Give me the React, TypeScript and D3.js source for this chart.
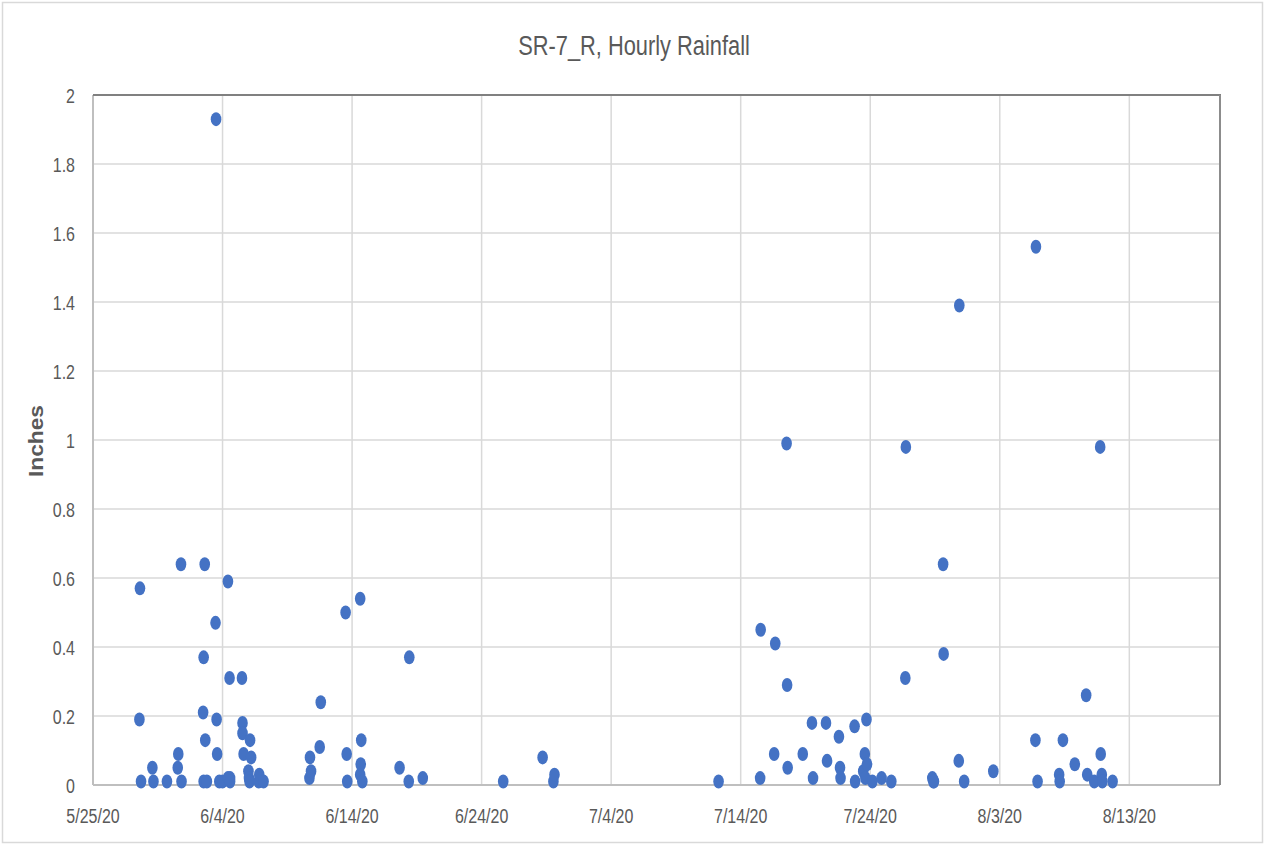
import React from "react";
import * as d3 from "d3";

const chartTitle = "SR-7_R, Hourly Rainfall";
const yAxisTitle = "Inches";

const rainTimes: string[] = [
  "2020-05-28T14:00", "2020-05-28T15:00", "2020-05-28T17:00", "2020-05-29T14:00", "2020-05-29T16:00",
  "2020-05-30T17:00", "2020-05-31T14:00", "2020-05-31T13:00", "2020-05-31T19:00", "2020-05-31T20:00",
  "2020-06-02T12:00", "2020-06-02T13:00", "2020-06-02T15:00", "2020-06-02T16:00", "2020-06-02T13:00",
  "2020-06-02T19:00", "2020-06-03T11:00", "2020-06-03T12:00", "2020-06-03T13:00", "2020-06-03T14:00",
  "2020-06-03T18:00", "2020-06-04T00:00", "2020-06-04T10:00", "2020-06-04T13:00", "2020-06-04T14:00",
  "2020-06-04T10:00", "2020-06-04T14:00", "2020-06-05T12:00", "2020-06-05T13:00", "2020-06-05T13:00",
  "2020-06-05T15:00", "2020-06-06T00:00", "2020-06-06T01:00", "2020-06-06T02:00", "2020-06-06T03:00",
  "2020-06-06T05:00", "2020-06-06T19:00", "2020-06-06T20:00", "2020-06-07T04:00",
  "2020-06-10T17:00", "2020-06-10T18:00", "2020-06-10T20:00", "2020-06-11T12:00", "2020-06-11T14:00",
  "2020-06-13T12:00", "2020-06-13T14:00", "2020-06-13T15:00", "2020-06-14T15:00", "2020-06-14T15:00",
  "2020-06-14T16:00", "2020-06-14T17:00", "2020-06-14T19:00", "2020-06-17T16:00", "2020-06-18T09:00",
  "2020-06-18T10:00", "2020-06-19T11:00",
  "2020-06-25T16:00", "2020-06-28T17:00", "2020-06-29T13:00", "2020-06-29T15:00",
  "2020-07-12T07:00", "2020-07-15T12:00", "2020-07-15T13:00", "2020-07-16T14:00", "2020-07-16T16:00",
  "2020-07-17T13:00", "2020-07-17T14:00", "2020-07-17T15:00", "2020-07-18T19:00", "2020-07-19T12:00",
  "2020-07-19T14:00", "2020-07-20T14:00", "2020-07-20T16:00", "2020-07-21T14:00", "2020-07-21T16:00",
  "2020-07-21T17:00", "2020-07-22T19:00", "2020-07-22T20:00", "2020-07-23T11:00", "2020-07-23T14:00",
  "2020-07-23T15:00", "2020-07-23T17:00", "2020-07-23T18:00", "2020-07-24T04:00", "2020-07-24T21:00",
  "2020-07-25T15:00", "2020-07-26T17:00", "2020-07-26T18:00", "2020-07-28T19:00", "2020-07-28T21:00",
  "2020-07-28T22:00", "2020-07-29T15:00", "2020-07-29T16:00", "2020-07-30T20:00", "2020-07-30T21:00",
  "2020-07-31T06:00", "2020-08-02T12:00", "2020-08-05T18:00", "2020-08-05T19:00", "2020-08-05T22:00",
  "2020-08-07T14:00", "2020-08-07T15:00", "2020-08-07T21:00", "2020-08-08T19:00", "2020-08-09T16:00",
  "2020-08-09T18:00", "2020-08-10T07:00", "2020-08-10T18:00", "2020-08-10T19:00", "2020-08-10T21:00",
  "2020-08-10T22:00", "2020-08-11T17:00",
];

const rainInches: number[] = [
  0.19, 0.57, 0.01, 0.05, 0.01,
  0.01, 0.09, 0.05, 0.64, 0.01,
  0.21, 0.37, 0.64, 0.13, 0.01,
  0.01, 0.47, 1.93, 0.19, 0.09,
  0.01, 0.01, 0.59, 0.31, 0.02,
  0.02, 0.01, 0.31, 0.18, 0.15,
  0.09, 0.04, 0.02, 0.01, 0.13,
  0.08, 0.01, 0.03, 0.01,
  0.02, 0.08, 0.04, 0.11, 0.24,
  0.5, 0.09, 0.01, 0.54, 0.03,
  0.06, 0.13, 0.01, 0.05, 0.01,
  0.37, 0.02,
  0.01, 0.08, 0.01, 0.03,
  0.01, 0.02, 0.45, 0.09, 0.41,
  0.99, 0.29, 0.05, 0.09, 0.18,
  0.02, 0.18, 0.07, 0.14, 0.05,
  0.02, 0.17, 0.01, 0.04, 0.09,
  0.02, 0.19, 0.06, 0.01, 0.02,
  0.01, 0.31, 0.98, 0.02, 0.01,
  0.01, 0.64, 0.38, 0.07, 1.39,
  0.01, 0.04, 0.13, 1.56, 0.01,
  0.03, 0.01, 0.13, 0.06, 0.26,
  0.03, 0.01, 0.98, 0.09, 0.03,
  0.01, 0.01,
];

const xTickDates: string[] = [
  "2020-05-25T00:00", "2020-06-04T00:00", "2020-06-14T00:00", "2020-06-24T00:00", "2020-07-04T00:00",
  "2020-07-14T00:00", "2020-07-24T00:00", "2020-08-03T00:00", "2020-08-13T00:00",
];
const xDomain: string[] = ["2020-05-25T00:00", "2020-08-20T00:00"];
const yTicks: number[] = [0, 0.2, 0.4, 0.6, 0.8, 1, 1.2, 1.4, 1.6, 1.8, 2];

const W = 1265;
const H = 844;
const left = 93;
const right = 1220;
const top = 95;
const bottom = 785;
const SX = 0.78;
const textColor = "#595959";
const font = "'Liberation Sans', Arial, sans-serif";

export default function App() {
  const parse = (s: string) => new Date(s);
  const x = d3.scaleTime().domain(xDomain.map(parse)).range([left, right]);
  const y = d3.scaleLinear().domain([0, 2]).range([bottom, top]);
  const fmtX = d3.timeFormat("%-m/%-d/%y");
  const fmtY = d3.format("~g");

  return (
    <svg width={W} height={H} style={{ position: "absolute", left: 0, top: 0, background: "#fff" }}>
      <rect x={2.5} y={2.5} width={W - 5} height={H - 4} fill="#fff" stroke="#d9d9d9" strokeWidth={1.5} />
      {yTicks.filter((t) => t > 0 && t < 2).map((t) => (
        <line key={"hy" + t} x1={left} x2={right} y1={y(t)} y2={y(t)} stroke="#d9d9d9" strokeWidth={1.5} />
      ))}
      {xTickDates.slice(1).map((s) => (
        <line key={"gx" + s} x1={x(parse(s))} x2={x(parse(s))} y1={top} y2={bottom} stroke="#d9d9d9" strokeWidth={1.5} />
      ))}
      <line x1={left} x2={left} y1={top} y2={bottom} stroke="#bfbfbf" strokeWidth={2} />
      <line x1={left} x2={right} y1={bottom} y2={bottom} stroke="#bfbfbf" strokeWidth={2} />
      <line x1={left} x2={right + 1} y1={top} y2={top} stroke="#808080" strokeWidth={2} />
      <line x1={right} x2={right} y1={top} y2={bottom} stroke="#8c8c8c" strokeWidth={2} />
      {yTicks.map((t) => (
        <text key={"yl" + t} transform={`translate(75,${y(t) + 7.5}) scale(${SX},1)`} textAnchor="end"
          fontFamily={font} fontSize={20.5} fill={textColor}>{fmtY(t)}</text>
      ))}
      {xTickDates.map((s) => (
        <text key={"xl" + s} transform={`translate(${x(parse(s))},823) scale(${SX},1)`} textAnchor="middle"
          fontFamily={font} fontSize={20.5} fill={textColor}>{fmtX(parse(s))}</text>
      ))}
      {rainTimes.map((s, i) => (
        <ellipse key={"p" + i} cx={x(parse(s))} cy={y(rainInches[i])} rx={5.3} ry={7} fill="#4472C4" />
      ))}
      <text transform={`translate(634,55) scale(${SX},1)`} textAnchor="middle"
        fontFamily={font} fontSize={28} fill={textColor}>{chartTitle}</text>
      <text transform="translate(43,441) rotate(-90)" textAnchor="middle" textLength={72} lengthAdjust="spacingAndGlyphs"
        fontFamily={font} fontSize={20} fontWeight="bold" fill={textColor}>{yAxisTitle}</text>
    </svg>
  );
}
